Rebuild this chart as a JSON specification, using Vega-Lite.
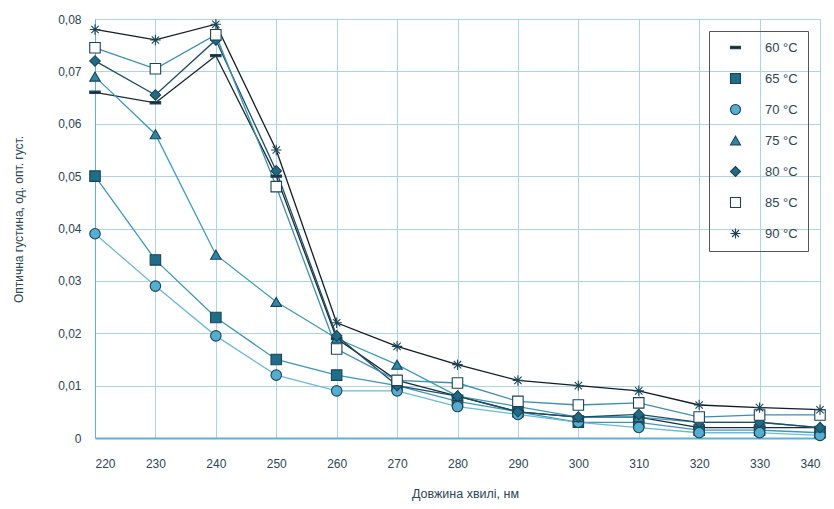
{
  "$schema": "https://vega.github.io/schema/vega-lite/v6.json",
  "width": 725,
  "height": 419,
  "autosize": {"type": "none"},
  "padding": {"left": 95, "top": 19, "right": 14, "bottom": 71},
  "background": "white",
  "config": {
    "font": "Liberation Sans",
    "view": {"stroke": null},
    "axis": {"gridColor": "#aad4e7", "gridWidth": 1, "gridOpacity": 1, "labelColor": "#2a4656", "titleColor": "#2a4656", "labelFont": "Liberation Sans", "titleFont": "Liberation Sans", "labelFontSize": 12, "titleFontSize": 12, "titleFontWeight": "normal", "ticks": false}
  },
  "data": {"values": [
    {"wl":220,"T":"60 °C","od":0.066},{"wl":230,"T":"60 °C","od":0.064},{"wl":240,"T":"60 °C","od":0.073},{"wl":250,"T":"60 °C","od":0.050},{"wl":260,"T":"60 °C","od":0.019},{"wl":270,"T":"60 °C","od":0.011},{"wl":280,"T":"60 °C","od":0.008},{"wl":290,"T":"60 °C","od":0.005},{"wl":300,"T":"60 °C","od":0.004},{"wl":310,"T":"60 °C","od":0.004},{"wl":320,"T":"60 °C","od":0.002},{"wl":330,"T":"60 °C","od":0.002},{"wl":340,"T":"60 °C","od":0.002},
    {"wl":220,"T":"65 °C","od":0.050},{"wl":230,"T":"65 °C","od":0.034},{"wl":240,"T":"65 °C","od":0.023},{"wl":250,"T":"65 °C","od":0.015},{"wl":260,"T":"65 °C","od":0.012},{"wl":270,"T":"65 °C","od":0.010},{"wl":280,"T":"65 °C","od":0.007},{"wl":290,"T":"65 °C","od":0.005},{"wl":300,"T":"65 °C","od":0.003},{"wl":310,"T":"65 °C","od":0.003},{"wl":320,"T":"65 °C","od":0.0015},{"wl":330,"T":"65 °C","od":0.0015},{"wl":340,"T":"65 °C","od":0.001},
    {"wl":220,"T":"70 °C","od":0.039},{"wl":230,"T":"70 °C","od":0.029},{"wl":240,"T":"70 °C","od":0.0195},{"wl":250,"T":"70 °C","od":0.012},{"wl":260,"T":"70 °C","od":0.009},{"wl":270,"T":"70 °C","od":0.009},{"wl":280,"T":"70 °C","od":0.006},{"wl":290,"T":"70 °C","od":0.0045},{"wl":300,"T":"70 °C","od":0.003},{"wl":310,"T":"70 °C","od":0.002},{"wl":320,"T":"70 °C","od":0.001},{"wl":330,"T":"70 °C","od":0.001},{"wl":340,"T":"70 °C","od":0.0005},
    {"wl":220,"T":"75 °C","od":0.069},{"wl":230,"T":"75 °C","od":0.058},{"wl":240,"T":"75 °C","od":0.035},{"wl":250,"T":"75 °C","od":0.026},{"wl":260,"T":"75 °C","od":0.019},{"wl":270,"T":"75 °C","od":0.014},{"wl":280,"T":"75 °C","od":0.008},{"wl":290,"T":"75 °C","od":0.006},{"wl":300,"T":"75 °C","od":0.004},{"wl":310,"T":"75 °C","od":0.004},{"wl":320,"T":"75 °C","od":0.003},{"wl":330,"T":"75 °C","od":0.003},{"wl":340,"T":"75 °C","od":0.002},
    {"wl":220,"T":"80 °C","od":0.072},{"wl":230,"T":"80 °C","od":0.0655},{"wl":240,"T":"80 °C","od":0.076},{"wl":250,"T":"80 °C","od":0.051},{"wl":260,"T":"80 °C","od":0.0195},{"wl":270,"T":"80 °C","od":0.010},{"wl":280,"T":"80 °C","od":0.008},{"wl":290,"T":"80 °C","od":0.005},{"wl":300,"T":"80 °C","od":0.004},{"wl":310,"T":"80 °C","od":0.0045},{"wl":320,"T":"80 °C","od":0.003},{"wl":330,"T":"80 °C","od":0.003},{"wl":340,"T":"80 °C","od":0.002},
    {"wl":220,"T":"85 °C","od":0.0745},{"wl":230,"T":"85 °C","od":0.0705},{"wl":240,"T":"85 °C","od":0.077},{"wl":250,"T":"85 °C","od":0.048},{"wl":260,"T":"85 °C","od":0.017},{"wl":270,"T":"85 °C","od":0.011},{"wl":280,"T":"85 °C","od":0.0105},{"wl":290,"T":"85 °C","od":0.007},{"wl":300,"T":"85 °C","od":0.0063},{"wl":310,"T":"85 °C","od":0.0067},{"wl":320,"T":"85 °C","od":0.004},{"wl":330,"T":"85 °C","od":0.0044},{"wl":340,"T":"85 °C","od":0.0044},
    {"wl":220,"T":"90 °C","od":0.078},{"wl":230,"T":"90 °C","od":0.076},{"wl":240,"T":"90 °C","od":0.079},{"wl":250,"T":"90 °C","od":0.055},{"wl":260,"T":"90 °C","od":0.022},{"wl":270,"T":"90 °C","od":0.0175},{"wl":280,"T":"90 °C","od":0.014},{"wl":290,"T":"90 °C","od":0.011},{"wl":300,"T":"90 °C","od":0.010},{"wl":310,"T":"90 °C","od":0.009},{"wl":320,"T":"90 °C","od":0.0063},{"wl":330,"T":"90 °C","od":0.0058},{"wl":340,"T":"90 °C","od":0.0054}
  ]},
  "encoding": {
    "x": {"field": "wl", "type": "quantitative", "scale": {"domain": [220, 340], "nice": false}, "axis": {"values": [220,230,240,250,260,270,280,290,300,310,320,330,340], "title": "Довжина хвилі, нм", "labelPadding": 20, "titlePadding": 18, "domainColor": "#5fb0d2", "domainWidth": 2, "titleX": 370, "titleFontSize": 12.5}},
    "y": {"field": "od", "type": "quantitative", "scale": {"domain": [0, 0.08], "nice": false}, "axis": {"values": [0,0.01,0.02,0.03,0.04,0.05,0.06,0.07,0.08], "labelExpr": "datum.value == 0 ? '0' : replace(format(datum.value, '.2f'), '.', ',')", "title": "Оптична густина, од. опт. густ.", "labelPadding": 14, "titlePadding": 32, "domainColor": "#5fb0d2", "domainWidth": 1, "titleY": 200}}
  },
  "layer": [
    {
      "mark": {"type": "line", "strokeWidth": 1.3},
      "encoding": {
        "stroke": {"field": "T", "type": "nominal", "scale": {"range": ["#1b2b38", "#3b98bd", "#6bbad8", "#3b9ac0", "#1e4e62", "#3b8fb3", "#111d26"]}, "legend": null}
      }
    },
    {
      "mark": {"type": "point", "filled": true, "size": 110, "stroke": "#1c4456", "strokeWidth": 1.1, "opacity": 1},
      "encoding": {
        "fill": {"field": "T", "type": "nominal", "scale": {"range": ["#1b2b38", "#1f6d89", "#55aed0", "#2f86a8", "#1f6b86", "#ffffff", "#111111"]}, "legend": {"title": null, "orient": "top-right", "offset": 12, "strokeColor": "#555", "padding": 10, "labelFontSize": 13, "labelColor": "#2a4656", "rowPadding": 16, "symbolSize": 100, "symbolStrokeWidth": 1.1, "symbolOffset": 10, "labelOffset": 23}},
        "shape": {"field": "T", "type": "nominal", "scale": {"range": ["M-1,-0.22L1,-0.22L1,0.22L-1,0.22Z", "square", "circle", "triangle-up", "diamond", "square", "M-1,0L1,0M0,-1L0,1M-0.7,-0.7L0.7,0.7M-0.7,0.7L0.7,-0.7"]}, "legend": {"title": null, "orient": "top-right", "offset": 12, "strokeColor": "#555", "padding": 10, "labelFontSize": 13, "labelColor": "#2a4656", "rowPadding": 16, "symbolSize": 100, "symbolStrokeWidth": 1.1, "symbolOffset": 10, "labelOffset": 23}}
      }
    }
  ]
}
